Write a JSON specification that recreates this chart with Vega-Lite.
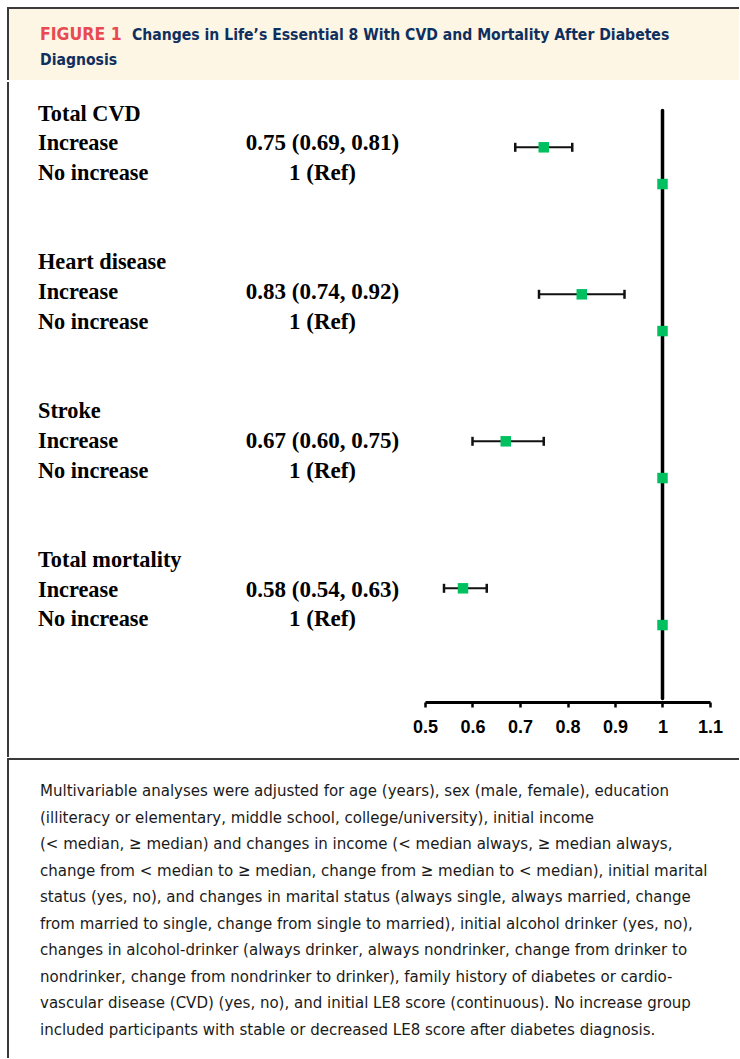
{
  "$schema": "https://vega.github.io/schema/vega-lite/v6.json",
  "padding": {"left": 7, "top": 7, "right": 0, "bottom": 0},
  "background": "white",
  "spacing": 0,
  "datasets": {
    "results": [
      {"outcome": "Total CVD", "group": "Increase", "row": "Total CVD|Increase", "hr": 0.75, "lo": 0.69, "hi": 0.81, "estimate": "0.75 (0.69, 0.81)"},
      {"outcome": "Total CVD", "group": "No increase", "row": "Total CVD|No increase", "hr": 1, "lo": null, "hi": null, "estimate": "1 (Ref)"},
      {"outcome": "Heart disease", "group": "Increase", "row": "Heart disease|Increase", "hr": 0.83, "lo": 0.74, "hi": 0.92, "estimate": "0.83 (0.74, 0.92)"},
      {"outcome": "Heart disease", "group": "No increase", "row": "Heart disease|No increase", "hr": 1, "lo": null, "hi": null, "estimate": "1 (Ref)"},
      {"outcome": "Stroke", "group": "Increase", "row": "Stroke|Increase", "hr": 0.67, "lo": 0.60, "hi": 0.75, "estimate": "0.67 (0.60, 0.75)"},
      {"outcome": "Stroke", "group": "No increase", "row": "Stroke|No increase", "hr": 1, "lo": null, "hi": null, "estimate": "1 (Ref)"},
      {"outcome": "Total mortality", "group": "Increase", "row": "Total mortality|Increase", "hr": 0.58, "lo": 0.54, "hi": 0.63, "estimate": "0.58 (0.54, 0.63)"},
      {"outcome": "Total mortality", "group": "No increase", "row": "Total mortality|No increase", "hr": 1, "lo": null, "hi": null, "estimate": "1 (Ref)"}
    ],
    "outcomes": [
      {"row": "Total CVD", "name": "Total CVD"},
      {"row": "Heart disease", "name": "Heart disease"},
      {"row": "Stroke", "name": "Stroke"},
      {"row": "Total mortality", "name": "Total mortality"}
    ],
    "heading": [
      {"piece": "FIGURE 1"},
      {"piece": "Changes in Life’s Essential 8 With CVD and Mortality After Diabetes"},
      {"piece": "Diagnosis"}
    ],
    "note": [
      {"line": 1, "text": "Multivariable analyses were adjusted for age (years), sex (male, female), education"},
      {"line": 2, "text": "(illiteracy or elementary, middle school, college/university), initial income"},
      {"line": 3, "text": "(< median, ≥ median) and changes in income (< median always, ≥ median always,"},
      {"line": 4, "text": "change from < median to ≥ median, change from ≥ median to < median), initial marital"},
      {"line": 5, "text": "status (yes, no), and changes in marital status (always single, always married, change"},
      {"line": 6, "text": "from married to single, change from single to married), initial alcohol drinker (yes, no),"},
      {"line": 7, "text": "changes in alcohol-drinker (always drinker, always nondrinker, change from drinker to"},
      {"line": 8, "text": "nondrinker, change from nondrinker to drinker), family history of diabetes or cardio-"},
      {"line": 9, "text": "vascular disease (CVD) (yes, no), and initial LE8 score (continuous). No increase group"},
      {"line": 10, "text": "included participants with stable or decreased LE8 score after diabetes diagnosis."}
    ]
  },
  "vconcat": [
    {
      "width": 731,
      "height": 72,
      "view": {"fill": "#fdf6e4", "stroke": "#3a3a3a", "strokeWidth": 2, "strokeDash": [731, 803, 72]},
      "data": {"name": "heading"},
      "layer": [
        {
          "transform": [{"filter": "datum.piece === 'FIGURE 1'"}],
          "mark": {"type": "text", "align": "left", "baseline": "middle", "font": "'Liberation Sans Narrow', 'DejaVu Sans Condensed', sans-serif", "fontWeight": "bold", "fontSize": 17.5, "color": "#e84a51"},
          "encoding": {
            "x": {"datum": "start", "type": "nominal", "scale": {"type": "point", "domain": ["start", "after", "_h1", "_h2", "_h3", "_h4", "_h5"], "padding": 0.97285, "align": 0.17877}, "axis": null},
            "y": {"datum": "line1", "type": "nominal", "scale": {"type": "point", "domain": ["line1", "line2"], "padding": 0.94, "align": 0.569}, "axis": null},
            "text": {"field": "piece"}
          }
        },
        {
          "transform": [{"filter": "datum.piece !== 'FIGURE 1' && datum.piece !== 'Diagnosis'"}],
          "mark": {"type": "text", "align": "left", "baseline": "middle", "font": "'Liberation Sans Narrow', 'DejaVu Sans Condensed', sans-serif", "fontWeight": "bold", "fontSize": 15.6, "color": "#0f2f5e"},
          "encoding": {
            "x": {"datum": "after", "type": "nominal"},
            "y": {"datum": "line1", "type": "nominal"},
            "text": {"field": "piece"}
          }
        },
        {
          "transform": [{"filter": "datum.piece === 'Diagnosis'"}],
          "mark": {"type": "text", "align": "left", "baseline": "middle", "font": "'Liberation Sans Narrow', 'DejaVu Sans Condensed', sans-serif", "fontWeight": "bold", "fontSize": 15.6, "color": "#0f2f5e"},
          "encoding": {
            "x": {"datum": "start", "type": "nominal"},
            "y": {"datum": "line2", "type": "nominal"},
            "text": {"field": "piece"}
          }
        }
      ]
    },
    {
      "spacing": 0,
      "bounds": "flush",
      "resolve": {"scale": {"x": "independent", "y": "independent"}},
      "hconcat": [
        {
          "width": 417,
          "height": 675,
          "view": {"stroke": "#3a3a3a", "strokeWidth": 2, "strokeDash": [0, 1509, 675]},
          "layer": [
            {
              "data": {"name": "outcomes"},
              "mark": {"type": "text", "align": "left", "baseline": "middle", "font": "'Liberation Serif', 'Times New Roman', serif", "fontWeight": "bold", "fontSize": 22.3, "color": "black"},
              "encoding": {
                "x": {"datum": "name", "type": "nominal", "scale": {"type": "point", "domain": ["name", "estimate"], "padding": 0.2329, "align": 0.2264}, "axis": null},
                "y": {"field": "row", "type": "nominal", "scale": {"type": "point", "domain": ["Total CVD", "Total CVD|Increase", "Total CVD|No increase", "_a1", "_a2", "Heart disease", "Heart disease|Increase", "Heart disease|No increase", "_b1", "_b2", "Stroke", "Stroke|Increase", "Stroke|No increase", "_c1", "_c2", "Total mortality", "Total mortality|Increase", "Total mortality|No increase", "_e1", "_e2", "_e3", "_e4"], "padding": 0.8445, "align": 0.6269}, "axis": null},
                "text": {"field": "name"}
              }
            },
            {
              "data": {"name": "results"},
              "mark": {"type": "text", "align": "left", "baseline": "middle", "font": "'Liberation Serif', 'Times New Roman', serif", "fontWeight": "bold", "fontSize": 22.3, "color": "black"},
              "encoding": {
                "x": {"datum": "name", "type": "nominal"},
                "y": {"field": "row", "type": "nominal"},
                "text": {"field": "group"}
              }
            },
            {
              "data": {"name": "results"},
              "mark": {"type": "text", "align": "center", "baseline": "middle", "font": "'Liberation Serif', 'Times New Roman', serif", "fontWeight": "bold", "fontSize": 23, "color": "black"},
              "encoding": {
                "x": {"datum": "estimate", "type": "nominal"},
                "y": {"field": "row", "type": "nominal"},
                "text": {"field": "estimate"}
              }
            }
          ]
        },
        {
          "width": 285,
          "height": 620,
          "view": {"stroke": null},
          "layer": [
            {
              "data": {"values": [{"reference": 1}]},
              "mark": {"type": "rule", "color": "black", "strokeWidth": 3.5, "strokeCap": "round"},
              "encoding": {
                "x": {
                  "field": "reference", "type": "quantitative",
                  "scale": {"domain": [0.5, 1.1], "nice": false, "zero": false},
                  "axis": {"values": [0.5, 0.6, 0.7, 0.8, 0.9, 1, 1.1], "format": "~g", "title": null, "grid": false, "labelFlush": false, "labelOverlap": false, "domainWidth": 3, "domainColor": "black", "tickColor": "black", "tickWidth": 2.5, "tickSize": 5, "labelFont": "'Liberation Sans', Arial, sans-serif", "labelFontWeight": "bold", "labelFontSize": 18, "labelColor": "black", "labelPadding": 11.5}
                },
                "y": {"datum": "_top", "type": "nominal", "scale": {"type": "point", "domain": ["_top", "Total CVD|Increase", "Total CVD|No increase", "_a1", "_a2", "Heart disease|Increase", "Heart disease|No increase", "_b1", "_b2", "Stroke|Increase", "Stroke|No increase", "_c1", "_c2", "Total mortality|Increase", "Total mortality|No increase", "_d1", "_d2"], "padding": 0.4354, "align": 0.8923}, "axis": null},
                "y2": {"datum": "_d2"}
              }
            },
            {
              "data": {"name": "results"},
              "transform": [{"filter": "datum.lo != null"}],
              "mark": {"type": "rule", "color": "#111111", "strokeWidth": 2},
              "encoding": {
                "x": {"field": "lo", "type": "quantitative"},
                "x2": {"field": "hi"},
                "y": {"field": "row", "type": "nominal"}
              }
            },
            {
              "data": {"name": "results"},
              "transform": [{"filter": "datum.lo != null"}],
              "mark": {"type": "tick", "orient": "vertical", "color": "#111111", "size": 9, "thickness": 2.5, "opacity": 1},
              "encoding": {
                "x": {"field": "lo", "type": "quantitative"},
                "y": {"field": "row", "type": "nominal"}
              }
            },
            {
              "data": {"name": "results"},
              "transform": [{"filter": "datum.hi != null"}],
              "mark": {"type": "tick", "orient": "vertical", "color": "#111111", "size": 9, "thickness": 2.5, "opacity": 1},
              "encoding": {
                "x": {"field": "hi", "type": "quantitative"},
                "y": {"field": "row", "type": "nominal"}
              }
            },
            {
              "data": {"name": "results"},
              "mark": {"type": "point", "shape": "square", "filled": true, "size": 110, "color": "#00c060", "opacity": 1},
              "encoding": {
                "x": {"field": "hr", "type": "quantitative"},
                "y": {"field": "row", "type": "nominal"}
              }
            }
          ]
        }
      ]
    },
    {
      "width": 731,
      "height": 299,
      "view": {"stroke": "#3a3a3a", "strokeWidth": 2, "strokeDash": [731, 1030, 299]},
      "data": {"name": "note"},
      "mark": {"type": "text", "align": "left", "baseline": "middle", "font": "'Liberation Sans Narrow', 'DejaVu Sans Condensed', sans-serif", "fontSize": 16.7, "color": "#1a1a1a"},
      "encoding": {
        "x": {"datum": "left", "type": "nominal", "scale": {"type": "point", "domain": ["left"], "padding": 0.5, "align": 0.04378}, "axis": null},
        "y": {"field": "line", "type": "ordinal", "scale": {"type": "point", "domain": [1, 2, 3, 4, 5, 6, 7, 8, 9, 10, 11], "padding": 0.6288, "align": 0.958}, "axis": null},
        "text": {"field": "text"}
      }
    }
  ],
  "config": {"view": {"stroke": null}, "concat": {"spacing": 0}}
}
